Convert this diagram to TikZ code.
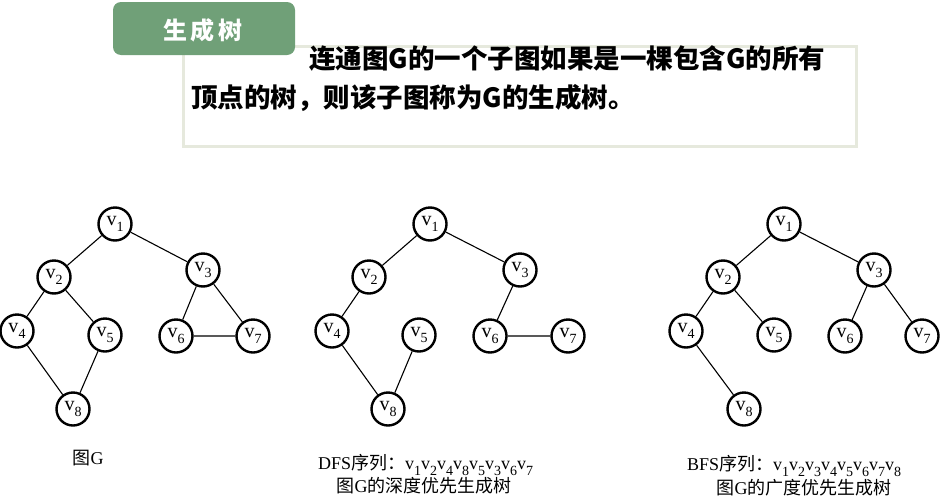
\documentclass[tikz,border=0pt]{standalone}
\usepackage{fontspec}
\setmainfont{Liberation Serif}
\newfontfamily\cjk{Noto Sans CJK SC}
\definecolor{tabgreen}{HTML}{70A078}
\definecolor{boxline}{HTML}{E6E9DD}
\newcommand\vx[1]{v\raisebox{-0.3em}{\fontsize{14}{14}\selectfont #1}}
\begin{document}
\begin{tikzpicture}[x=1pt,y=-1pt,
  vert/.style={circle,draw,line width=2.4pt,minimum size=33pt,inner sep=0pt,font=\fontsize{20}{20}\selectfont},
  edge/.style={line width=1.1pt},
  captxt/.style={font=\fontsize{18}{20}\selectfont,inner sep=0pt},
  head/.style={font=\cjk\bfseries\fontsize{26.5}{26.5}\selectfont,inner sep=0pt,anchor=west}]
\useasboundingbox (0,0) rectangle (941,498);
% header
\draw[boxline,line width=3pt] (183,46) rectangle (856,146);
\fill[tabgreen,rounded corners=8pt] (113,2) rectangle (295,55);
\node[font=\cjk\bfseries\fontsize{24}{24}\selectfont,text=white] (tab) at (203,30) {生\hspace{4pt}成\hspace{4pt}树};
\node[head] (l1) at (309,58) {连通图G的一个子图如果是一棵包含G的所有};
\node[head] (l2) at (191,98) {顶点的树，则该子图称为G的生成树。};
% graph G
\node[vert] (a1) at (115,224) {\vx1};
\node[vert] (a2) at (54,277) {\vx2};
\node[vert] (a3) at (203,270) {\vx3};
\node[vert] (a4) at (17,331) {\vx4};
\node[vert] (a5) at (105,335) {\vx5};
\node[vert] (a6) at (176,336) {\vx6};
\node[vert] (a7) at (253,336) {\vx7};
\node[vert] (a8) at (73,409) {\vx8};
\draw[edge] (a1)--(a2) (a1)--(a3) (a2)--(a4) (a2)--(a5) (a4)--(a8) (a5)--(a8) (a3)--(a6) (a3)--(a7) (a6)--(a7);
\node[captxt] (ga) at (88,458) {{\cjk 图}G};
% DFS
\node[vert] (b1) at (430,224) {\vx1};
\node[vert] (b2) at (369,277) {\vx2};
\node[vert] (b3) at (520,270) {\vx3};
\node[vert] (b4) at (332,331) {\vx4};
\node[vert] (b5) at (419,335) {\vx5};
\node[vert] (b6) at (490,336) {\vx6};
\node[vert] (b7) at (568,336) {\vx7};
\node[vert] (b8) at (388,409) {\vx8};
\draw[edge] (b1)--(b2) (b1)--(b3) (b2)--(b4) (b4)--(b8) (b5)--(b8) (b3)--(b6) (b6)--(b7);
\node[captxt,anchor=west] (gb1) at (318,465) {DFS{\cjk 序列：}\vx1\vx2\vx4\vx8\vx5\vx3\vx6\vx7};
\node[captxt] (gb2) at (424,486) {{\cjk 图}G{\cjk 的深度优先生成树}};
% BFS
\node[vert] (c1) at (784,224) {\vx1};
\node[vert] (c2) at (723,277) {\vx2};
\node[vert] (c3) at (874,270) {\vx3};
\node[vert] (c4) at (686,331) {\vx4};
\node[vert] (c5) at (774,335) {\vx5};
\node[vert] (c6) at (845,336) {\vx6};
\node[vert] (c7) at (922,336) {\vx7};
\node[vert] (c8) at (744,409) {\vx8};
\draw[edge] (c1)--(c2) (c1)--(c3) (c2)--(c4) (c2)--(c5) (c4)--(c8) (c3)--(c6) (c3)--(c7);
\node[captxt,anchor=west] (gc1) at (687,466) {BFS{\cjk 序列：}\vx1\vx2\vx3\vx4\vx5\vx6\vx7\vx8};
\node[captxt] (gc2) at (804,488) {{\cjk 图}G{\cjk 的广度优先生成树}};
\end{tikzpicture}
\end{document}
